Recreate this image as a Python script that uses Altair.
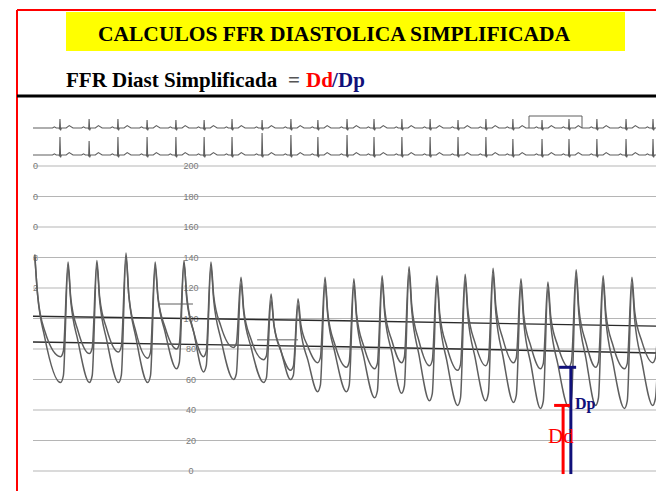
import altair as alt
import pandas as pd

# ---------------- values ----------------
grid_levels = [0, 20, 40, 60, 80, 100, 120, 140, 160, 180, 200]
grid_labels = ["0", "20", "40", "60", "80", "100", "120", "140", "160", "180", "200"]
edge_levels = [120, 140, 160, 180, 200]          # cut-off labels at left edge
edge_labels = ["2", "8", "0", "0", "0"]

# pressure beats (time of systolic peak, s)
peak_t = [0.06, 1.13, 2.06, 3.00, 3.94, 4.87, 5.74, 6.71, 7.68, 8.55, 9.42, 10.35,
          11.26, 12.13, 13.03, 13.94, 14.84, 15.74, 16.61, 17.52, 18.39, 19.32, 20.23]
pa_sys = [142, 137, 138, 143, 137, 138, 137, 127, 116, 113, 127, 126, 128, 134, 128,
          129, 133, 126, 124, 132, 128, 127, 126]
pd_sys = [140, 134, 135, 140, 134, 136, 134, 123, 112, 109, 123, 122, 124, 130, 124,
          125, 129, 122, 120, 128, 124, 123, 122]
pa_dia = [75, 77, 78, 74, 80, 75, 81, 73, 66, 71, 68, 67, 71, 69, 66, 69, 71, 67, 68,
          68, 67, 71, 70]
pd_dia = [58, 58, 58, 58, 67, 65, 60, 58, 60, 52, 52, 48, 51, 46, 43, 46, 45, 41, 42,
          43, 41, 43, 43]

# mean pressure lines (slightly drifting)
mean_t = [0.0, 10.0, 20.1]
pa_mean = [101.5, 98.5, 95.0]
pd_mean = [84.6, 81.5, 77.4]

# flat artefact segments of the recorder (t start, t end, mmHg)
art_t1 = [4.03, 7.23]
art_t2 = [5.16, 8.55]
art_p = [109.5, 86.0]

# ECG (R wave times, s) and R amplitudes (mV)
qrs_t = [0.87, 1.81, 2.74, 3.68, 4.61, 5.52, 6.42, 7.39, 8.32, 9.19, 10.13, 11.00,
         11.90, 12.81, 13.71, 14.61, 15.48, 16.42, 17.29, 18.19, 19.13, 20.00]
lead2_r = [0.9, 0.7, 0.9, 0.9, 0.9, 0.9, 0.9, 1.1, 1.0, 0.9, 1.0, 0.9, 0.9, 0.9, 0.9,
           0.9, 0.8, 0.8, 0.8, 0.8, 0.8, 0.8]
lead1_r = [0.45, 0.45, 0.45, 0.4, 0.4, 0.4, 0.45, 0.4, 0.45, 0.4, 0.45, 0.45, 0.45,
           0.45, 0.4, 0.45, 0.45, 0.4, 0.45, 0.45, 0.45, 0.45]
lead1_base = 1.35
caliper_t = [16.0, 17.71]
caliper_top = 1.95

# Dd / Dp measurement
dd_value, dp_value = 43, 68
dd_t, dp_t = 17.10, 17.35

# ---------------- scales ----------------
X = alt.Scale(domain=[-33 / 31, 623 / 31], nice=False, zero=False)
PY = alt.Scale(domain=[-20 / 1.525, 471 / 1.525], nice=False, zero=False)
EY = alt.Scale(domain=[-(491 - 155) / 20, 155 / 20], nice=False, zero=False)


def pressure_rows(sys, dia, k1, k2, name):
    rows = []
    for i, tp in enumerate(peak_t):
        rows.append({"t": tp, "p": sys[i], "s": name})
        if i + 1 < len(peak_t):
            d = dia[i]
            tn = peak_t[i + 1]
            rows.append({"t": tp + 0.09, "p": d + k1 * (sys[i] - d), "s": name})
            rows.append({"t": tp + 0.32, "p": d + k2 * (sys[i] - d), "s": name})
            rows.append({"t": tn - 0.24, "p": d, "s": name})
            rows.append({"t": tn - 0.15, "p": d + 0.06 * (sys[i + 1] - d), "s": name})
    return rows


press = pd.DataFrame(pressure_rows(pa_sys, pa_dia, 0.6, 0.25, "Pa") +
                     pressure_rows(pd_sys, pd_dia, 0.7, 0.36, "Pd"))

shape2 = [(-0.24, 0), (-0.18, 0.06), (-0.12, 0), (-0.03, 0), (-0.015, -0.06), (0, None),
          (0.02, -0.12), (0.045, 0), (0.2, 0), (0.3, 0.12), (0.42, 0)]


def ecg_rows(amps, base, name):
    rows = [{"t": 0.0, "v": base, "s": name}]
    for i, r in enumerate(qrs_t):
        for dt, v in shape2:
            val = amps[i] if v is None else v
            rows.append({"t": r + dt, "v": base + val, "s": name})
    rows.append({"t": 20.1, "v": base, "s": name})
    return rows


ecg = pd.DataFrame(ecg_rows(lead2_r, 0.0, "II") + ecg_rows(lead1_r, lead1_base, "I"))
caliper = pd.DataFrame({"t": [caliper_t[0], caliper_t[0], caliper_t[1], caliper_t[1]],
                        "v": [lead1_base, caliper_top, caliper_top, lead1_base],
                        "o": [0, 1, 2, 3]})

grid = pd.DataFrame({"p": grid_levels, "lab": grid_labels,
                     "t0": [0.0] * len(grid_levels), "t1": [20.1] * len(grid_levels),
                     "tl": [5.1] * len(grid_levels)})
edge = pd.DataFrame({"p": edge_levels, "lab": edge_labels, "t": [0.0] * len(edge_levels)})
means = pd.DataFrame({"t": mean_t * 2, "p": pa_mean + pd_mean,
                      "s": ["a"] * 3 + ["d"] * 3})
arts = pd.DataFrame({"t1": art_t1, "t2": art_t2, "p": art_p})
meas = pd.DataFrame({"t": [dd_t, dp_t], "v": [dd_value, dp_value],
                     "c": ["Dd", "Dp"], "lo": [dd_t - 0.29, dp_t - 0.38],
                     "hi": [dd_t + 0.22, dp_t + 0.17], "base": [-2, -2],
                     "tx": [17.03, 17.48], "ty": [22.3, 43.9]})

one = pd.DataFrame({"a": [0]})
GRAY = "#5e5e5e"
NAVY = "#10107a"
RED = "#ff0000"
SERIF = "Liberation Serif"

xs = lambda f: alt.X(f, scale=X, axis=None)
ps = lambda f: alt.Y(f, scale=PY, axis=None)
es = lambda f: alt.Y(f, scale=EY, axis=None)

layers = []
# gridlines
layers.append(alt.Chart(grid).mark_rule(color="#b5b5b5", strokeWidth=1).encode(
    x=xs("t0:Q"), x2="t1:Q", y=ps("p:Q")))
layers.append(alt.Chart(grid).mark_text(font="Liberation Sans", fontSize=9, color="#7a7a7a").encode(
    x=xs("tl:Q"), y=ps("p:Q"), text="lab:N"))
layers.append(alt.Chart(edge).mark_text(font="Liberation Sans", fontSize=9, color="#7a7a7a",
                                        align="left").encode(
    x=xs("t:Q"), y=ps("p:Q"), text="lab:N"))
# mean lines
layers.append(alt.Chart(means).mark_line(color="#2a2a2a", strokeWidth=1.4).encode(
    x=xs("t:Q"), y=ps("p:Q"), detail="s:N"))
# artefact flat segments
layers.append(alt.Chart(arts).mark_rule(color=GRAY, strokeWidth=1).encode(
    x=xs("t1:Q"), x2="t2:Q", y=ps("p:Q")))
# pressure tracings
layers.append(alt.Chart(press).mark_line(color=GRAY, strokeWidth=1.5, interpolate="monotone",
                                         clip=True).encode(
    x=xs("t:Q"), y=ps("p:Q"), detail="s:N"))
# ECG
layers.append(alt.Chart(ecg).mark_line(color=GRAY, strokeWidth=1.1).encode(
    x=xs("t:Q"), y=es("v:Q"), detail="s:N"))
layers.append(alt.Chart(caliper).mark_line(color=GRAY, strokeWidth=1).encode(
    x=xs("t:Q"), y=es("v:Q"), order="o:Q"))
# Dd / Dp markers
cscale = alt.Scale(domain=["Dd", "Dp"], range=[RED, NAVY])
layers.append(alt.Chart(meas).mark_rule(strokeWidth=3).encode(
    x=xs("t:Q"), y=ps("base:Q"), y2="v:Q",
    color=alt.Color("c:N", scale=cscale, legend=None)))
layers.append(alt.Chart(meas).mark_rule(strokeWidth=3).encode(
    x=xs("lo:Q"), x2="hi:Q", y=ps("v:Q"),
    color=alt.Color("c:N", scale=cscale, legend=None)))
layers.append(alt.Chart(meas).transform_filter(alt.datum.c == "Dp").mark_text(
    font=SERIF, fontSize=16, fontWeight="bold", color=NAVY, align="left").encode(
    x=xs("tx:Q"), y=ps("ty:Q"), text="c:N"))
layers.append(alt.Chart(meas).transform_filter(alt.datum.c == "Dd").mark_text(
    font=SERIF, fontSize=21, color=RED, align="center").encode(
    x=xs("tx:Q"), y=ps("ty:Q"), text="c:N"))

# slide decorations
layers.append(alt.Chart(one).mark_rect(color="#ffff00").encode(
    x=alt.value(66), x2=alt.value(625), y=alt.value(12), y2=alt.value(51)))
layers.append(alt.Chart(one).mark_rule(color=RED, strokeWidth=2).encode(
    x=alt.value(17), y=alt.value(10), y2=alt.value(491)))
layers.append(alt.Chart(one).mark_rule(color=RED, strokeWidth=2).encode(
    x=alt.value(17), x2=alt.value(656), y=alt.value(10)))
layers.append(alt.Chart(one).mark_rule(color="#000000", strokeWidth=3).encode(
    x=alt.value(17), x2=alt.value(656), y=alt.value(96)))
layers.append(alt.Chart(one).mark_text(font=SERIF, fontSize=21.5, fontWeight="bold",
                                       color="#000000", align="center", baseline="alphabetic").encode(
    x=alt.value(334), y=alt.value(41), text=alt.value("CALCULOS FFR DIASTOLICA SIMPLIFICADA")))
sub_txt = ["FFR Diast Simplificada", "=", "Dd", "/", "Dp"]
sub_x = [66, 288, 306, 332, 338]
sub_col = ["#000000", "#555555", RED, NAVY, NAVY]
for s, xx, cc in zip(sub_txt, sub_x, sub_col):
    layers.append(alt.Chart(one).mark_text(font=SERIF, fontSize=21, fontWeight="bold",
                                           color=cc, align="left", baseline="alphabetic").encode(
        x=alt.value(xx), y=alt.value(87), text=alt.value(s)))

chart = alt.layer(*layers).resolve_scale(y="independent").properties(
    width=656, height=491, padding=0,
    autosize=alt.AutoSizeParams(type="none"),
    background="#ffffff",
).configure_view(stroke=None)

chart.save("out.html", embed_options={"renderer": "svg", "actions": False})
